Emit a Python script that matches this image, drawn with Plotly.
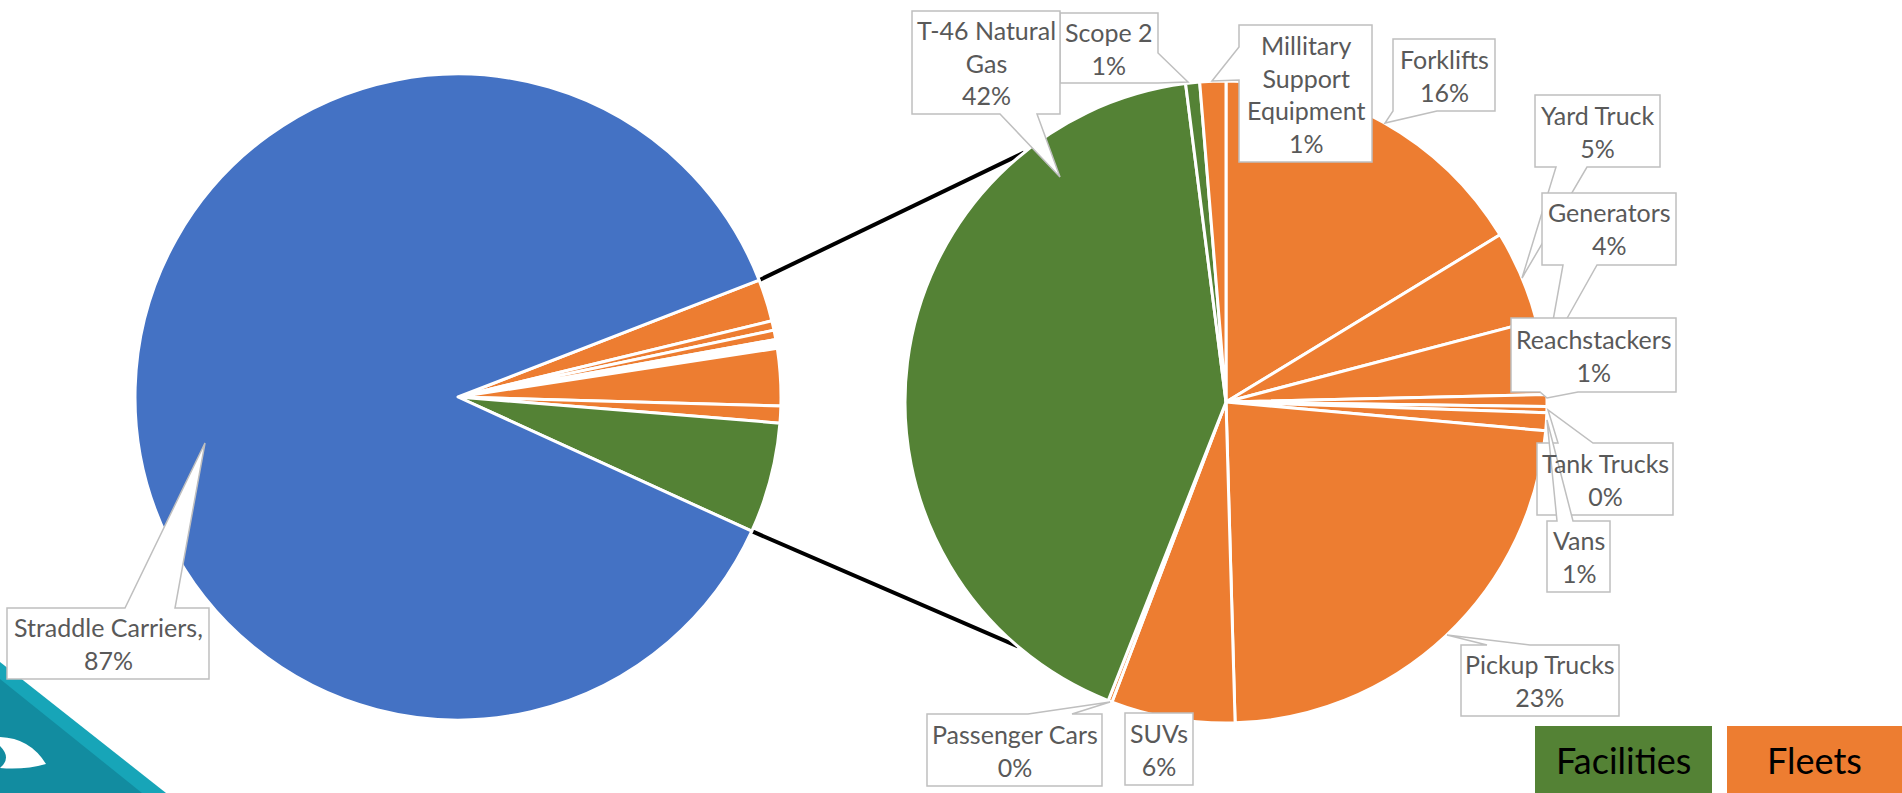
import math
import plotly.graph_objects as go

W, H = 1902, 793

# ---------------- data ----------------
left_labels = ["Forklifts", "Yard Truck", "Generators", "Other Fleets", "Pickup Trucks",
               "SUVs", "Facilities", "Straddle Carriers"]
left_values = [2.1, 0.47, 0.47, 0.44, 2.85, 0.85, 5.53, 87.3]
left_groups = ["Fleets", "Fleets", "Fleets", "Gap", "Fleets", "Fleets", "Facilities", "Straddle"]

right_labels = ["Forklifts", "Yard Truck", "Generators", "Reachstackers", "Tank Trucks", "Vans",
                "Pickup Trucks", "SUVs", "Passenger Cars", "T-46 Natural Gas", "Scope 2",
                "Millitary Support Equipment"]
right_values = [16.2, 4.6, 3.7, 0.6, 0.3, 0.9, 23.0, 6.2, 0.2, 41.8, 0.7, 1.3]
right_groups = ["Fleets"] * 9 + ["Facilities", "Facilities", "Fleets"]

legend_labels = ["Facilities", "Fleets"]

# ---------------- styles ----------------
COLORS = {"Straddle": "#4472C4", "Fleets": "#ED7D31", "Facilities": "#548235", "Gap": "#FFFFFF"}
FONT = "Lato, 'Open Sans', sans-serif"
TXT = "#595959"
BORDER = "#BFBFBF"

# pie geometry (pixels)
L_CX, L_CY, L_R = 458, 397, 323
R_CX, R_CY, R_R = 1226, 402, 321
L_ROT = 68.8


def dom(cx, cy, r):
    return dict(x=[(cx - r) / W, (cx + r) / W], y=[1 - (cy + r) / H, 1 - (cy - r) / H])


def px(x):
    return x / W


def py(y):
    return 1 - y / H


fig = go.Figure()
fig.add_trace(go.Pie(
    labels=left_labels, values=left_values, sort=False, direction="clockwise",
    rotation=L_ROT, textinfo="none", hoverinfo="label+percent",
    marker=dict(colors=[COLORS[g] for g in left_groups], line=dict(color="white", width=3)),
    domain=dom(L_CX, L_CY, L_R), showlegend=False,
))
fig.add_trace(go.Pie(
    labels=right_labels, values=right_values, sort=False, direction="clockwise",
    rotation=0, textinfo="none", hoverinfo="label+percent",
    marker=dict(colors=[COLORS[g] for g in right_groups], line=dict(color="white", width=3)),
    domain=dom(R_CX, R_CY, R_R), showlegend=False,
))

shapes = []
annotations = []

# connector lines between the pies
l_tot = sum(left_values)
a_top = math.radians(L_ROT)
a_bot = math.radians(L_ROT + 360 * sum(left_values[:-1]) / l_tot)
r_top = math.radians(321)
r_bot = math.radians(220.4)
for la, ra in [(a_top, r_top), (a_bot, r_bot)]:
    x0 = L_CX + L_R * math.sin(la)
    y0 = L_CY - L_R * math.cos(la)
    x1 = R_CX + R_R * math.sin(ra)
    y1 = R_CY - R_R * math.cos(ra)
    shapes.append(dict(type="line", xref="paper", yref="paper", x0=px(x0), y0=py(y0),
                       x1=px(x1), y1=py(y1), line=dict(color="black", width=4), layer="below"))


def callout(box, side=None, base=None, tip=None):
    x0, y0, x1, y1 = box
    pts = [(x0, y0)]
    if side == "top":
        pts += [(base[0], y0), tip, (base[1], y0)]
    pts += [(x1, y0)]
    if side == "right":
        pts += [(x1, base[0]), tip, (x1, base[1])]
    pts += [(x1, y1)]
    if side == "bottom":
        pts += [(base[1], y1), tip, (base[0], y1)]
    pts += [(x0, y1)]
    if side == "left":
        pts += [(x0, base[1]), tip, (x0, base[0])]
    path = "M " + " L ".join(f"{px(a):.5f},{py(b):.5f}" for a, b in pts) + " Z"
    shapes.append(dict(type="path", xref="paper", yref="paper", path=path,
                       fillcolor="white", line=dict(color=BORDER, width=1.5), layer="above"))


r_tot = sum(right_values)
r_pct = {lab: round(v / r_tot * 100) for lab, v in zip(right_labels, right_values)}
l_pct = {lab: round(v / l_tot * 100) for lab, v in zip(left_labels, left_values)}

# label layout: (label, display name lines, box, side, base, tip)
callouts = [
    ("Straddle Carriers", "Straddle Carriers,", (7, 608, 209, 679), "top", (125, 175), (205, 443), l_pct),
    ("Scope 2", "Scope 2", (1060, 13, 1158, 83), "right", (53, 83), (1188, 82), r_pct),
    ("T-46 Natural Gas", "T-46 Natural<br>Gas", (912, 11, 1060, 114), "bottom", (1000, 1037), (1060, 177), r_pct),
    ("Millitary Support Equipment", "Millitary<br>Support<br>Equipment", (1239, 25, 1372, 162), "left", (47, 80), (1212, 81), r_pct),
    ("Forklifts", "Forklifts", (1393, 39, 1495, 111), "bottom", (1393, 1437), (1385, 123), r_pct),
    ("Yard Truck", "Yard Truck", (1535, 95, 1660, 167), "bottom", (1556, 1587), (1522, 278), r_pct),
    ("Generators", "Generators", (1542, 193, 1676, 265), "bottom", (1563, 1597), (1547, 354), r_pct),
    ("Reachstackers", "Reachstackers", (1511, 318, 1676, 392), "bottom", (1540, 1578), (1547, 398), r_pct),
    ("Tank Trucks", "Tank Trucks", (1537, 443, 1673, 515), "top", (1558, 1593), (1548, 410), r_pct),
    ("Vans", "Vans", (1547, 521, 1610, 592), "top", (1557, 1573), (1547, 420), r_pct),
    ("Pickup Trucks", "Pickup Trucks", (1461, 645, 1619, 716), "top", (1487, 1530), (1447, 635), r_pct),
    ("Passenger Cars", "Passenger Cars", (927, 714, 1102, 786), "top", (1028, 1072), (1110, 702), r_pct),
    ("SUVs", "SUVs", (1125, 713, 1193, 785), None, None, None, r_pct),
]

for lab, disp, box, side, base, tip, pct in callouts:
    callout(box, side, base, tip)
    x0, y0, x1, y1 = box
    annotations.append(dict(
        xref="paper", yref="paper", x=px((x0 + x1) / 2), y=py((y0 + y1) / 2),
        text=f"{disp}<br>{pct[lab]}%", showarrow=False, xanchor="center", yanchor="middle",
        font=dict(family=FONT, size=25, color=TXT), align="center",
    ))

# legend boxes
for lab, (x0, x1) in zip(legend_labels, [(1535, 1712), (1727, 1902)]):
    shapes.append(dict(type="rect", xref="paper", yref="paper", x0=px(x0), x1=px(x1),
                       y0=py(726), y1=py(793), fillcolor=COLORS[lab], line=dict(width=0), layer="above"))
    annotations.append(dict(xref="paper", yref="paper", x=px((x0 + x1) / 2), y=py(760),
                            text=lab, showarrow=False, xanchor="center", yanchor="middle",
                            font=dict(family=FONT, size=36, color="black")))

# slide background fragment (logo corner)
def poly(pts, color):
    path = "M " + " L ".join(f"{px(a):.5f},{py(b):.5f}" for a, b in pts) + " Z"
    shapes.append(dict(type="path", xref="paper", yref="paper", path=path,
                       fillcolor=color, line=dict(width=0), layer="below"))

poly([(0, 662), (166, 793), (0, 793)], "#17A5B8")
poly([(0, 679), (142, 793), (0, 793)], "#128CA0")
shapes.append(dict(type="path", xref="paper", yref="paper", layer="below", fillcolor="white",
                   line=dict(width=0),
                   path=(f"M {px(0)},{py(737)} Q {px(30)},{py(738)} {px(46)},{py(764)} "
                         f"Q {px(25)},{py(770)} {px(0)},{py(768)} "
                         f"Q {px(12)},{py(758)} {px(0)},{py(746)} Z")))

fig.update_layout(
    width=W, height=H, autosize=False,
    margin=dict(l=0, r=0, t=0, b=0),
    paper_bgcolor="white", plot_bgcolor="white",
    shapes=shapes, annotations=annotations,
    showlegend=False,
)

fig.write_html("out.html")
